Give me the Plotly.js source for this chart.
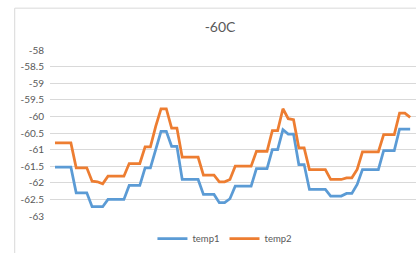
<!DOCTYPE html>
<html>
<head>
<meta charset="utf-8">
<script src="https://cdn.plot.ly/plotly-3.0.1.min.js"></script>
<style>html,body{margin:0;padding:0;background:#fff;}#chart{width:416px;height:253px;}</style>
</head>
<body>
<div id="chart"></div>
<script>
var temp1 = [-61.53,-61.53,-61.53,-61.53,-62.3,-62.3,-62.3,-62.72,-62.72,-62.72,
  -62.5,-62.5,-62.5,-62.5,-62.08,-62.08,-62.08,-61.55,-61.55,-61.0,
  -60.45,-60.45,-60.9,-60.9,-61.9,-61.9,-61.9,-61.9,-62.35,-62.35,
  -62.35,-62.6,-62.6,-62.48,-62.1,-62.1,-62.1,-62.1,-61.57,-61.57,
  -61.57,-61.0,-61.0,-60.4,-60.53,-60.53,-61.45,-61.45,-62.2,-62.2,
  -62.2,-62.2,-62.4,-62.4,-62.4,-62.32,-62.32,-62.05,-61.6,-61.6,
  -61.6,-61.6,-61.03,-61.03,-61.03,-60.38,-60.38,-60.38];
var temp2 = [-60.8,-60.8,-60.8,-60.8,-61.55,-61.55,-61.55,-61.95,-61.97,-62.03,
  -61.8,-61.8,-61.8,-61.8,-61.42,-61.42,-61.42,-60.92,-60.92,-60.3,
  -59.77,-59.77,-60.35,-60.35,-61.23,-61.23,-61.23,-61.23,-61.77,-61.77,
  -61.77,-61.97,-61.97,-61.9,-61.5,-61.5,-61.5,-61.5,-61.05,-61.05,
  -61.05,-60.43,-60.43,-59.77,-60.07,-60.1,-60.95,-60.95,-61.6,-61.6,
  -61.6,-61.6,-61.9,-61.9,-61.9,-61.85,-61.85,-61.6,-61.07,-61.07,
  -61.07,-61.07,-60.55,-60.55,-60.55,-59.9,-59.9,-60.03];
var seriesNames = ['temp1','temp2'];
var tickVals = [-58,-58.5,-59,-59.5,-60,-60.5,-61,-61.5,-62,-62.5,-63];
var tickText = ['-58','-58.5','-59','-59.5','-60','-60.5','-61','-61.5','-62','-62.5','-63'];
var xs = temp1.map(function(_, i){ return i; });

var traces = [
  {x: xs, y: temp1, name: seriesNames[0], type: 'scatter', mode: 'lines',
   line: {color: '#5B9BD5', width: 2.75}},
  {x: xs, y: temp2, name: seriesNames[1], type: 'scatter', mode: 'lines',
   line: {color: '#ED7D31', width: 2.75}}
];

var layout = {
  width: 416, height: 253,
  margin: {l: 50, r: 0, t: 50, b: 36},
  paper_bgcolor: '#fff', plot_bgcolor: '#fff',
  font: {family: 'Lato, "Open Sans", sans-serif', color: '#595959'},
  title: {text: '-60C', font: {size: 14, color: '#595959', family: 'Lato, "Open Sans", sans-serif'},
          x: 0.529, xanchor: 'center', y: 0.893, yanchor: 'middle', xref: 'container', yref: 'container'},
  xaxis: {range: [-0.94, 68.1], showgrid: false, zeroline: false, showticklabels: false,
          showline: false, ticks: '', fixedrange: true},
  yaxis: {range: [-63, -58], tickvals: tickVals, ticktext: tickText,
          showgrid: true, gridcolor: '#d9d9d9', gridwidth: 1, zeroline: false, showline: false,
          ticks: 'outside', ticklen: 3, tickcolor: 'rgba(0,0,0,0)',
          tickfont: {size: 10, color: '#595959'}, fixedrange: true},
  showlegend: true,
  legend: {orientation: 'h', x: 0.478, xanchor: 'center', y: -0.134, yanchor: 'middle',
           font: {size: 9.5, color: '#595959'}, itemwidth: 30, bgcolor: 'rgba(0,0,0,0)'},
  shapes: [
    {type: 'line', xref: 'paper', yref: 'paper', x0: -0.0964, x1: -0.0964, y0: 1.252, y1: -0.3,
     line: {color: '#d9d9d9', width: 1}},
    {type: 'line', xref: 'paper', yref: 'paper', x0: -0.0964, x1: 1.1, y0: 1.252, y1: 1.252,
     line: {color: '#d9d9d9', width: 1}}
  ]
};

Plotly.newPlot('chart', traces, layout, {displayModeBar: false, staticPlot: true});
</script>
</body>
</html>
